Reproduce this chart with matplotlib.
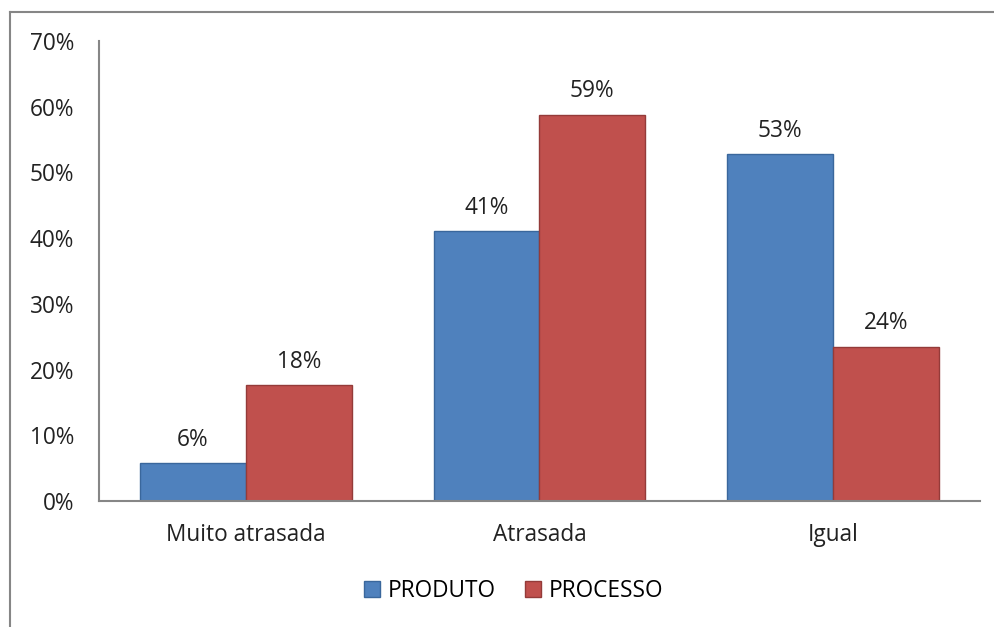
import matplotlib
matplotlib.use("Agg")
import matplotlib.pyplot as plt
from matplotlib.patches import Patch
from matplotlib.lines import Line2D
import numpy as np

categories = ["Muito atrasada", "Atrasada", "Igual"]
produto = [5.8, 41.1, 52.8]
processo = [17.7, 58.8, 23.5]
series_names = ["PRODUTO", "PROCESSO"]
yticks = [0, 10, 20, 30, 40, 50, 60, 70]

plt.rcParams['font.family'] = ['Open Sans', 'DejaVu Sans']
FS = 16.3

fig = plt.figure(figsize=(9.95, 6.27), dpi=100)
ax = fig.add_axes([99/995, 1-501/627, 881/995, 460/627])

blue, blue_e = "#4F81BD", "#3A679C"
red, red_e = "#C0504D", "#943B39"
x = np.arange(len(categories))
w = 0.36
b1 = ax.bar(x - w/2, produto, w, color=blue, edgecolor=blue_e, linewidth=1)
b2 = ax.bar(x + w/2, processo, w, color=red, edgecolor=red_e, linewidth=1)

for bars, vals in ((b1, produto), (b2, processo)):
    for rect, v in zip(bars, vals):
        ax.annotate(f"{round(v):.0f}%", (rect.get_x() + rect.get_width()/2, rect.get_height()),
                    xytext=(0, 8), textcoords="offset points", ha="center", va="bottom",
                    fontsize=FS, color="#222222")

ax.set_xlim(-0.5, 2.5)
ax.set_ylim(0, 70)
ax.set_yticks(yticks)
ax.set_yticklabels([f"{t}%" for t in yticks], fontsize=FS, color="#222222")
ax.set_xticks(x)
ax.set_xticklabels(categories, fontsize=FS, color="#222222")
ax.tick_params(axis='both', length=0)
ax.tick_params(axis='y', pad=18)
ax.tick_params(axis='x', pad=16)
for s in ("top", "right"):
    ax.spines[s].set_visible(False)
for s in ("left", "bottom"):
    ax.spines[s].set_color("#868686")
    ax.spines[s].set_linewidth(1.5)

handles = [Patch(facecolor=blue, edgecolor=blue_e), Patch(facecolor=red, edgecolor=red_e)]
fig.legend(handles, series_names, loc="center", bbox_to_anchor=(514/995, 1-591/627),
           ncol=2, frameon=False, fontsize=FS, handlelength=0.7, handleheight=0.7,
           handletextpad=0.35, columnspacing=1.3)

# outer border (left and top)
fig.add_artist(Line2D([10/995, 10/995], [0, 1-12/627], color="#868686", lw=1.5, transform=fig.transFigure))
fig.add_artist(Line2D([10/995, 1], [1-12/627, 1-12/627], color="#868686", lw=1.5, transform=fig.transFigure))

fig.savefig("out.png", dpi=100)
